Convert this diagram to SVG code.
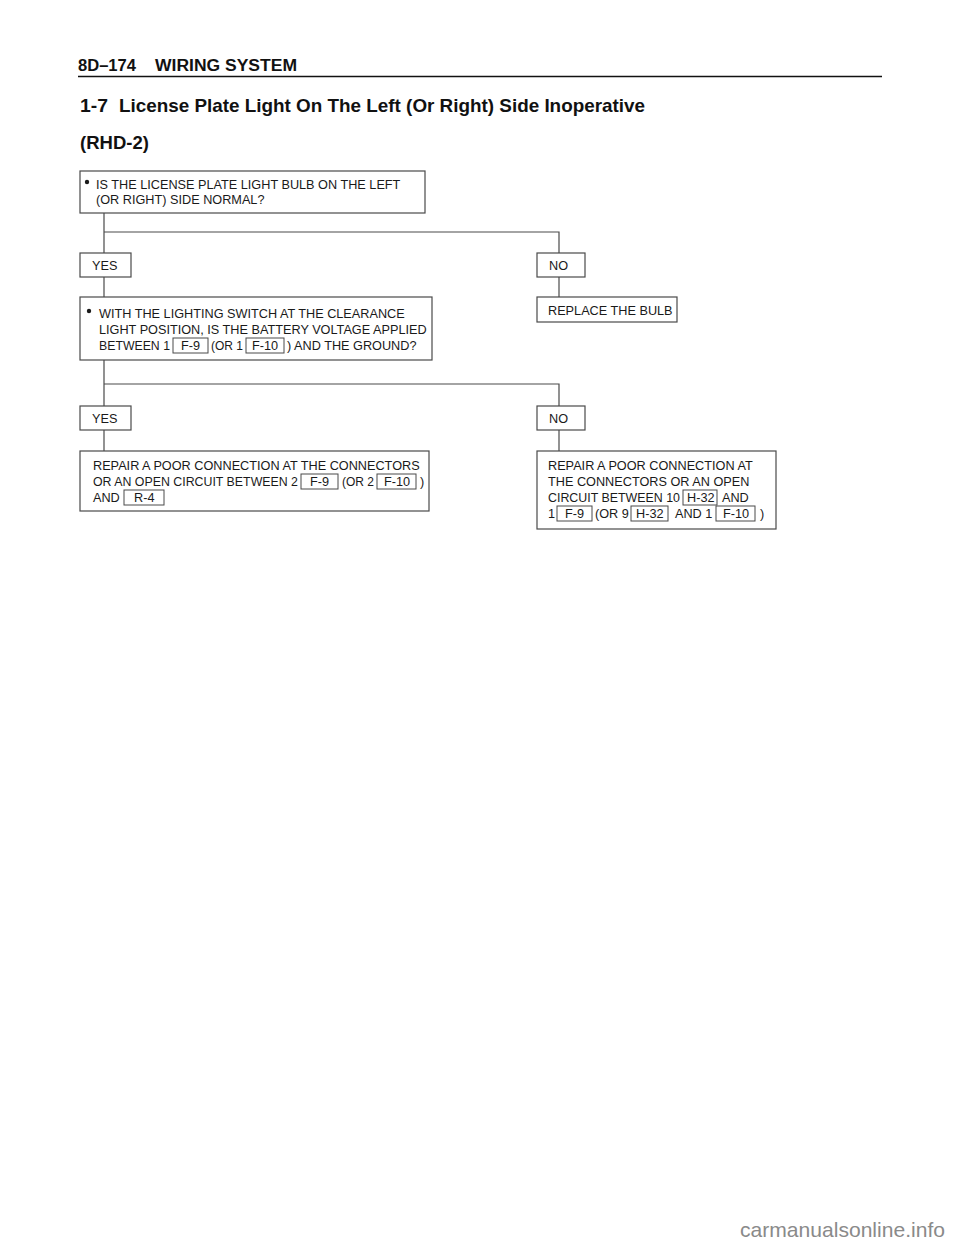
<svg xmlns="http://www.w3.org/2000/svg" width="960" height="1250" viewBox="0 0 960 1250">
<style>
.bg{fill:#ffffff}
.box{fill:#ffffff;stroke:#4a4a4a;stroke-width:1.2}
.cbox{fill:none;stroke:#4a4a4a;stroke-width:1}
.t{font-family:"Liberation Sans",Arial,sans-serif;font-size:12.7px;fill:#1a1a1a}
.hd{font-family:"Liberation Sans",Arial,sans-serif;font-weight:bold;fill:#111}
.conn{fill:none;stroke:#4a4a4a;stroke-width:1.2}
.wm{font-family:"Liberation Sans",Arial,sans-serif;font-size:21px;fill:#8a8a8a}
</style>
<rect class="bg" x="0" y="0" width="960" height="1250"/>
<g id="header">
<text class="hd" x="78" y="71" font-size="16" textLength="58" lengthAdjust="spacingAndGlyphs">8D–174</text>
<text class="hd" x="155" y="71" font-size="16" textLength="142" lengthAdjust="spacingAndGlyphs">WIRING SYSTEM</text>
<line x1="78" y1="76.5" x2="882" y2="76.5" stroke="#111" stroke-width="1.5"/>
<text class="hd" x="80" y="112" font-size="18.5" textLength="28" lengthAdjust="spacingAndGlyphs">1-7</text>
<text class="hd" x="119" y="112" font-size="18.5" textLength="526" lengthAdjust="spacingAndGlyphs">License Plate Light On The Left (Or Right) Side Inoperative</text>
<text class="hd" x="80" y="149" font-size="18.5">(RHD-2)</text>
</g>
<g id="connectors">
<path class="conn" d="M104 213 V253 M104 232 H559 V253"/>
<path class="conn" d="M104 277 V297"/>
<path class="conn" d="M559 277 V297"/>
<path class="conn" d="M104 360 V406 M104 384 H559 V406"/>
<path class="conn" d="M104 430 V451"/>
<path class="conn" d="M559 430 V451"/>
</g>
<g id="q1">
<rect class="box" x="80" y="171" width="345" height="42"/>
<circle cx="87" cy="182" r="2.2" fill="#1a1a1a"/>
<text class="t" x="96" y="189">IS THE LICENSE PLATE LIGHT BULB ON THE LEFT</text>
<text class="t" x="96" y="204">(OR RIGHT) SIDE NORMAL?</text>
</g>
<g id="yes1">
<rect class="box" x="80" y="253" width="51" height="24"/>
<text class="t" x="92" y="270">YES</text>
</g>
<g id="no1">
<rect class="box" x="537" y="253" width="48" height="24"/>
<text class="t" x="549" y="270">NO</text>
</g>
<g id="replace">
<rect class="box" x="537" y="297" width="140" height="25"/>
<text class="t" x="548" y="315">REPLACE THE BULB</text>
</g>
<g id="q2">
<rect class="box" x="80" y="297" width="352" height="63"/>
<circle cx="89" cy="311" r="2.2" fill="#1a1a1a"/>
<text class="t" x="99" y="318">WITH THE LIGHTING SWITCH AT THE CLEARANCE</text>
<text class="t" x="99" y="334">LIGHT POSITION, IS THE BATTERY VOLTAGE APPLIED</text>
<text class="t" x="99" y="350" textLength="71" lengthAdjust="spacingAndGlyphs">BETWEEN 1</text>
<rect class="cbox" x="173" y="338" width="35" height="15"/>
<text class="t" x="181" y="350">F-9</text>
<text class="t" x="211" y="350" textLength="32" lengthAdjust="spacingAndGlyphs">(OR 1</text>
<rect class="cbox" x="246" y="338" width="38" height="15"/>
<text class="t" x="252" y="350">F-10</text>
<text class="t" x="287" y="350">) AND THE GROUND?</text>
</g>
<g id="yes2">
<rect class="box" x="80" y="406" width="51" height="24"/>
<text class="t" x="92" y="423">YES</text>
</g>
<g id="no2">
<rect class="box" x="537" y="406" width="48" height="24"/>
<text class="t" x="549" y="423">NO</text>
</g>
<g id="repair1">
<rect class="box" x="80" y="451" width="349" height="60"/>
<text class="t" x="93" y="470">REPAIR A POOR CONNECTION AT THE CONNECTORS</text>
<text class="t" x="93" y="486" textLength="205" lengthAdjust="spacingAndGlyphs">OR AN OPEN CIRCUIT BETWEEN 2</text>
<rect class="cbox" x="301" y="474" width="37" height="15"/>
<text class="t" x="310" y="486">F-9</text>
<text class="t" x="342" y="486" textLength="32" lengthAdjust="spacingAndGlyphs">(OR 2</text>
<rect class="cbox" x="377" y="474" width="39" height="15"/>
<text class="t" x="384" y="486">F-10</text>
<text class="t" x="420" y="486">)</text>
<text class="t" x="93" y="502">AND</text>
<rect class="cbox" x="124" y="490" width="40" height="15"/>
<text class="t" x="134" y="502">R-4</text>
</g>
<g id="repair2">
<rect class="box" x="537" y="451" width="239" height="78"/>
<text class="t" x="548" y="470">REPAIR A POOR CONNECTION AT</text>
<text class="t" x="548" y="486">THE CONNECTORS OR AN OPEN</text>
<text class="t" x="548" y="502" textLength="132" lengthAdjust="spacingAndGlyphs">CIRCUIT BETWEEN 10</text>
<rect class="cbox" x="683" y="490" width="34" height="15"/>
<text class="t" x="687" y="502">H-32</text>
<text class="t" x="722" y="502">AND</text>
<text class="t" x="548" y="518">1</text>
<rect class="cbox" x="557" y="506" width="35" height="15"/>
<text class="t" x="565" y="518">F-9</text>
<text class="t" x="595" y="518">(OR 9</text>
<rect class="cbox" x="631" y="506" width="37" height="15"/>
<text class="t" x="636" y="518">H-32</text>
<text class="t" x="675" y="518">AND 1</text>
<rect class="cbox" x="716" y="506" width="39" height="15"/>
<text class="t" x="723" y="518">F-10</text>
<text class="t" x="760" y="518">)</text>
</g>
<text class="wm" x="740" y="1237" textLength="205" lengthAdjust="spacingAndGlyphs">carmanualsonline.info</text>
</svg>
